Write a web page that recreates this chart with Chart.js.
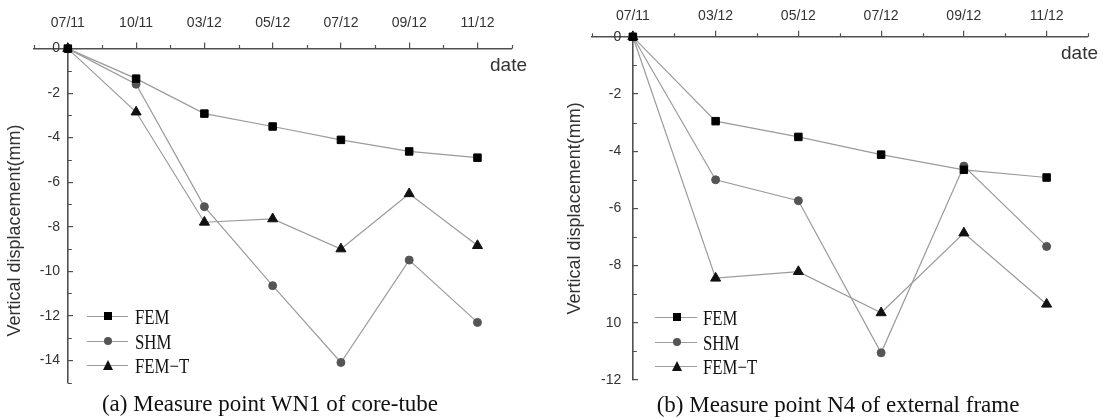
<!DOCTYPE html>
<html>
<head>
<meta charset="utf-8">
<script src="https://cdn.jsdelivr.net/npm/chart.js@4.4.0/dist/chart.umd.min.js"></script>
<style>
html,body{margin:0;padding:0;background:#fff;}
#wrap{position:relative;width:1103px;height:418px;overflow:hidden;background:#fff;}
.cv{position:absolute;top:0;height:418px;}
.txt{position:absolute;white-space:nowrap;line-height:1;}
.date{font-family:"Liberation Sans",Arial,sans-serif;font-size:19px;color:#333;}
.cap{font-family:"Liberation Serif","Times New Roman",serif;font-size:23px;color:#111;transform:translate(-50%,-50%);}
.legline{position:absolute;height:0;border-top:1px solid #9b9b9b;}
.legtxt{position:absolute;font-family:"Liberation Serif","Times New Roman",serif;font-size:21px;color:#111;white-space:nowrap;line-height:1;transform-origin:left center;transform:translateY(-50%) scaleX(0.8);}
.mk{position:absolute;}
</style>
</head>
<body>
<div id="wrap">
  <div class="cv" style="left:0;width:555px;"><canvas id="cA"></canvas></div>
  <div class="cv" style="left:555px;width:548px;"><canvas id="cB"></canvas></div>
  <div class="txt date" style="left:490px;top:55px;">date</div>
  <div class="txt date" style="left:1061px;top:43px;">date</div>
  <div class="txt cap" style="left:270px;top:403px;">(a) Measure point WN1 of core-tube</div>
  <div class="txt cap" style="left:838px;top:404px;">(b) Measure point N4 of external frame</div>
  <div id="legA"></div>
  <div id="legB"></div>
</div>
<script>
// ---------- data ----------
const seriesNames = ['FEM', 'SHM', 'FEM\u2212T'];

const datesA = ['07/11', '10/11', '03/12', '05/12', '07/12', '09/12', '11/12'];
const femA   = [0, -1.35, -2.92, -3.5, -4.1, -4.62, -4.9];
const shmA   = [0, -1.6, -7.1, -10.65, -14.1, -9.5, -12.3];
const femTA  = [0, -2.85, -7.8, -7.65, -9.0, -6.52, -8.85];
const yTicksA = ['0', '-2', '-4', '-6', '-8', '-10', '-12', '-14'];

const datesB = ['07/11', '03/12', '05/12', '07/12', '09/12', '11/12'];
const femB   = [0, -2.95, -3.5, -4.12, -4.65, -4.92];
const shmB   = [0, -5.0, -5.73, -11.05, -4.52, -7.33];
const femTB  = [0, -8.44, -8.21, -9.65, -6.86, -9.35];
const yTicksB = ['0', '-2', '-4', '-6', '-8', '10', '-12'];

const yTitle = 'Vertical displacement(mm)';

// ---------- styles ----------
const AXIS = '#505050';
const LINE = '#9b9b9b';
const TXT = '#333';
Chart.defaults.font.family = '"Liberation Sans", Arial, sans-serif';
Chart.defaults.color = TXT;

const markers = [
  {style: 'rect', radius: 5.3, color: '#000'},
  {style: 'circle', radius: 4, color: '#555'},
  {style: 'triangle', radius: 5.8, color: '#111'}
];

const minorTicks = {
  id: 'minorTicks',
  afterDraw(chart) {
    const ctx = chart.ctx, xs = chart.scales.x, ys = chart.scales.y;
    const y0 = ys.getPixelForValue(0), x0 = xs.getPixelForValue(0);
    ctx.save();
    ctx.strokeStyle = AXIS; ctx.lineWidth = 1.2;
    ctx.beginPath();
    xs.ticks.forEach(t => {
      if (Math.abs(t.value - Math.round(t.value)) > 1e-9) {
        const px = Math.round(xs.getPixelForValue(t.value)) + 0.5;
        ctx.moveTo(px, y0); ctx.lineTo(px, y0 - 3.5);
      }
    });
    ys.ticks.forEach(t => {
      const r = Math.round(t.value);
      if (r % 2 !== 0) {
        const py = Math.round(ys.getPixelForValue(t.value)) + 0.5;
        ctx.moveTo(x0, py); ctx.lineTo(x0 + 4, py);
      }
    });
    ctx.stroke();
    ctx.restore();
  }
};

function makeChart(id, cats, series, yLabels, yMin, L) {
  const datasets = series.map((arr, k) => ({
    label: seriesNames[k],
    data: arr.map((v, i) => ({x: i, y: v})),
    xAxisID: 'x', yAxisID: 'y',
    borderColor: LINE, borderWidth: 1.2, tension: 0,
    pointStyle: markers[k].style, pointRadius: markers[k].radius,
    pointBackgroundColor: markers[k].color, pointBorderColor: markers[k].color,
    pointBorderWidth: 1, clip: false, fill: false
  }));
  return new Chart(document.getElementById(id), {
    type: 'line',
    data: {datasets},
    options: {
      responsive: true, maintainAspectRatio: false, animation: false, devicePixelRatio: 1,
      events: [],
      layout: {padding: {left: 0, right: L.padR, top: L.padT, bottom: L.padB}},
      plugins: {legend: {display: false}, tooltip: {enabled: false}},
      scales: {
        x: {
          type: 'linear', position: 'top', min: -0.5, max: cats.length - 0.5,
          grid: {display: true, drawOnChartArea: false, tickLength: 6, lineWidth: 1.2,
                 tickColor: c => (c.tick && Math.abs(c.tick.value - Math.round(c.tick.value)) < 1e-9) ? AXIS : 'rgba(0,0,0,0)'},
          border: {display: true, color: AXIS, width: 1.6},
          ticks: {stepSize: 0.5, autoSkip: false, maxRotation: 0, padding: L.xPad, color: TXT,
                  font: {size: 14},
                  callback: v => Math.abs(v - Math.round(v)) > 1e-9 ? '' : (cats[Math.round(v)] ?? '')}
        },
        y: {
          type: 'linear', position: {x: 0}, min: yMin, max: 0,
          afterFit: s => { s.paddingTop = 0; s.paddingBottom = 0; s.paddingLeft = 0; s.paddingRight = 0; },
          grid: {display: true, drawOnChartArea: false, tickLength: -6, lineWidth: 1.2,
                 tickColor: c => (c.tick && Math.round(c.tick.value) % 2 === 0) ? AXIS : 'rgba(0,0,0,0)'},
          border: {display: true, color: AXIS, width: 1.6},
          ticks: {stepSize: 1, autoSkip: false, padding: 14, color: TXT, font: {size: 14},
                  callback: v => { const r = Math.round(v); return (r % 2 !== 0) ? '' : (yLabels[-r / 2] ?? '') + L.gap; }}
        },
        yt: {
          type: 'linear', position: 'left', display: true,
          grid: {display: false, drawTicks: false}, border: {display: false},
          ticks: {display: false},
          title: {display: true, text: L.title, color: '#333', font: {size: 18},
                  padding: {top: L.tPadTop, bottom: L.tPadBot}}
        }
      }
    },
    plugins: [minorTicks]
  });
}

makeChart('cA', datesA, [femA, shmA, femTA], yTicksA, -15,
  {padR: 43.4, padT: 4.6, padB: 35.5, xPad: 10.6, gap: '  ', title: yTitle + '      ', tPadTop: 4.7, tPadBot: 7.4});
makeChart('cB', datesB, [femB, shmB, femTB], yTicksB, -12,
  {padR: 15, padT: 2.4, padB: 38, xPad: 5.8, gap: '   ', title: yTitle, tPadTop: 9.2, tPadBot: 5.7});

// ---------- HTML legends ----------
function buildLegend(elId, lineX1, lineX2, mkX, txtX, ys) {
  const host = document.getElementById(elId);
  seriesNames.forEach((name, k) => {
    const y = ys[k];
    const ln = document.createElement('div');
    ln.className = 'legline';
    ln.style.left = lineX1 + 'px'; ln.style.width = (lineX2 - lineX1) + 'px'; ln.style.top = y + 'px';
    host.appendChild(ln);
    const mk = document.createElement('div');
    mk.className = 'mk';
    if (k === 0) {
      mk.style.cssText += `left:${mkX - 4}px;top:${y - 3.5}px;width:8px;height:8px;background:#000;`;
    } else if (k === 1) {
      mk.style.cssText += `left:${mkX - 4}px;top:${y - 3.5}px;width:8px;height:8px;background:#555;border-radius:50%;`;
    } else {
      mk.style.cssText += `left:${mkX - 5.5}px;top:${y - 5}px;width:0;height:0;border-left:5.5px solid transparent;border-right:5.5px solid transparent;border-bottom:10px solid #111;`;
    }
    host.appendChild(mk);
    const tx = document.createElement('div');
    tx.className = 'legtxt';
    tx.style.left = txtX + 'px'; tx.style.top = (y + 1) + 'px';
    tx.textContent = name;
    host.appendChild(tx);
  });
}
buildLegend('legA', 87, 128, 108, 135, [315.7, 340.7, 365]);
buildLegend('legB', 655, 697, 677, 703, [316.7, 341.5, 366]);
</script>
</body>
</html>
